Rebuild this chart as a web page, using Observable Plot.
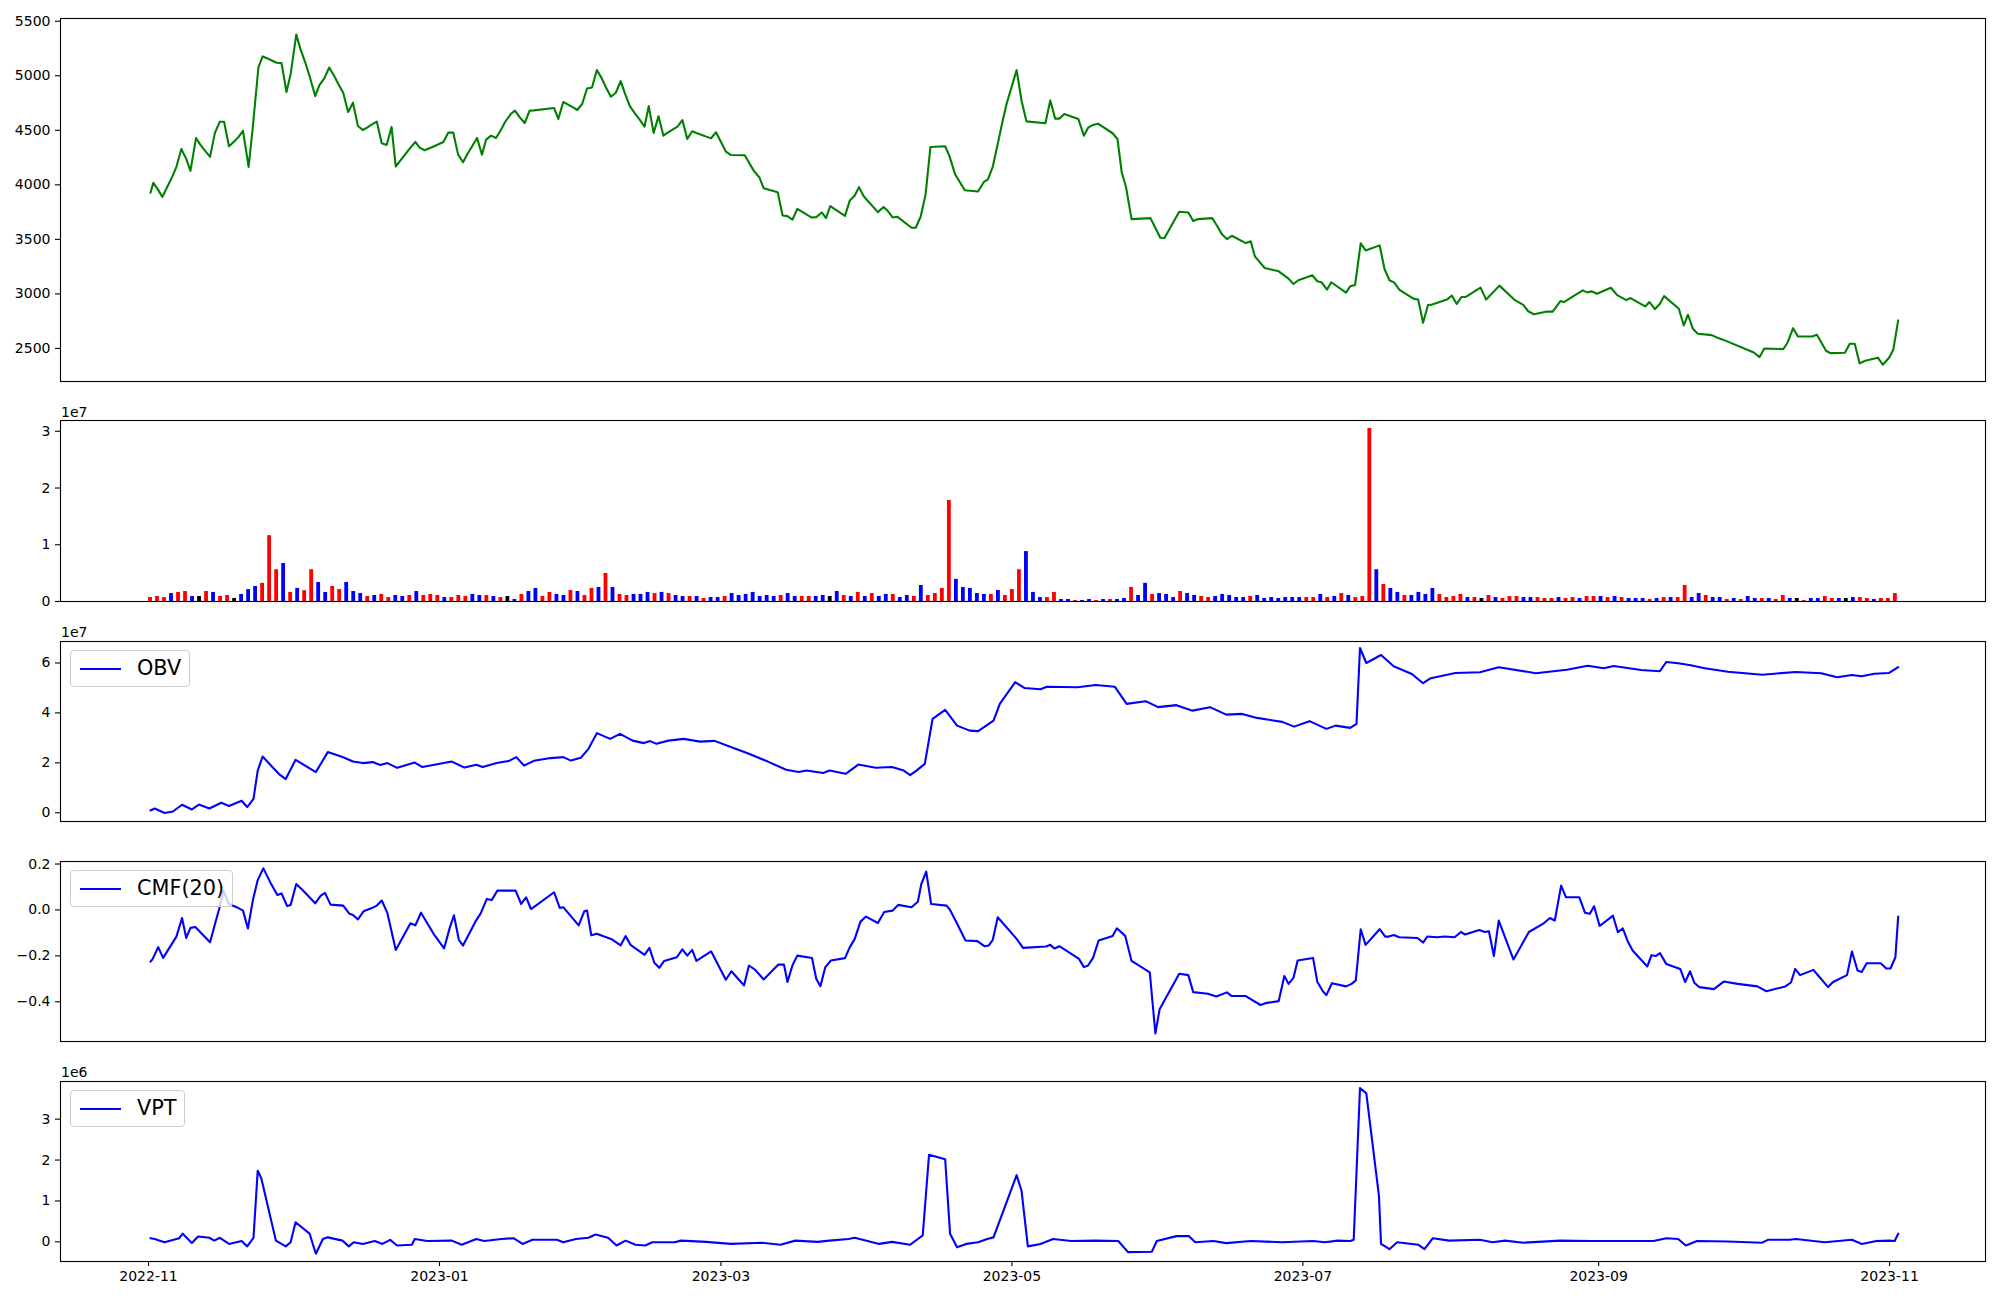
<!DOCTYPE html>
<html><head><meta charset="utf-8">
<script src="https://cdn.jsdelivr.net/npm/d3@7"></script>
<script src="https://cdn.jsdelivr.net/npm/@observablehq/plot@0.6"></script>
<style>
html,body{margin:0;padding:0;background:#fff;}
#fig{position:relative;width:2000px;height:1300px;font-family:"DejaVu Sans",sans-serif;color:#000;}
.panel{position:absolute;left:0;}
.offset{position:absolute;left:61px;font-size:14px;line-height:14px;}
.legend{position:absolute;z-index:5;display:flex;align-items:center;box-sizing:border-box;height:37px;padding:0 8px 0 9px;border:1px solid #cccccc;border-radius:4px;background:rgba(255,255,255,0.8);font-size:20.8px;line-height:1;}
.legend .swatch{width:41px;height:2px;background:#0000ff;margin-right:16px;}
</style></head><body><div id="fig"></div>
<script>
// ---------------- DATA ----------------
// bars are evenly spaced between the first and the last bar time
const firstBarTime = "2022-11-01T10:00Z";
const lastBarTime = "2023-11-02T05:00Z";
const xStart = "2022-10-13T13:12Z";
const xEnd = "2023-11-21T02:24Z";
const xTickDates = ["2022-11-01","2023-01-01","2023-03-01","2023-05-01","2023-07-01","2023-09-01","2023-11-01"];

// daily volume, millions
const volumeMillions = [
0.70,0.88,0.70,1.40,1.60,1.76,0.88,0.88,1.76,1.60, 0.88,1.06,0.53,1.24,2.10,2.65,3.20,11.6,5.6,6.7,
1.6,2.3,1.9,5.6,3.35,1.6,2.65,2.1,3.35,1.76, 1.4,0.88,1.06,1.24,0.7,1.06,0.88,1.06,1.76,1.06,
1.24,1.06,0.7,0.7,1.06,0.88,1.24,1.06,1.06,0.88, 0.7,0.88,0.35,1.24,1.76,2.3,0.88,1.6,
1.24,1.06,1.94,1.76,1.06,2.3,2.47,4.94,2.47,1.24, 1.06,1.24,1.24,1.6,1.4,1.6,1.4,1.06,0.88,0.88,
0.88,0.53,0.7,0.7,0.88,1.4,1.06,1.24,1.6,0.88, 1.06,0.88,1.06,1.4,0.88,0.88,0.88,0.88,1.06,0.88,
1.76,1.06,0.88,1.6,0.88,1.4,0.88,1.24,1.24,0.7, 1.06,0.88,2.82,1.06,1.4,2.3,17.8,3.9,2.47,2.3,
1.4,1.24,1.24,1.94,1.06,2.1,5.6,8.8,1.6,0.7,
0.7,1.6,0.35,0.35,0.18,0.18,0.35,0.18,0.35,0.35, 0.35,0.53,2.47,1.06,3.2,1.24,1.4,1.24,0.7,1.76,
1.4,1.06,0.88,0.7,0.88,1.24,1.06,0.7,0.7,0.88, 1.06,0.53,0.7,0.53,0.7,0.7,0.7,0.7,0.7,1.24,
0.7,0.88,1.4,1.06,0.7,0.88,30.5,5.6,3.0,2.3, 1.6,1.06,1.06,1.6,1.24,2.3,1.24,0.7,0.88,1.24,
0.7,0.7,0.53,1.06,0.7,0.53,0.88,0.88,0.7,0.7,
0.7,0.53,0.53,0.7,0.53,0.7,0.53,0.88,0.88,0.88, 0.7,0.88,0.7,0.53,0.53,0.53,0.35,0.53,0.7,0.7,
0.7,2.82,0.7,1.4,1.06,0.7,0.7,0.35,0.53,0.35, 0.88,0.53,0.53,0.53,0.35,1.06,0.53,0.53,0.18,0.53,
0.53,0.88,0.53,0.53,0.53,0.7,0.7,0.53,0.35,0.53, 0.53,1.4
];
// r = up (red), b = down (blue), k = unchanged (black)
const volumeColorCodes =
  "rrrbrrbkrb"+"rrkbbbrrrb"+"rbrrbbrrbb"+"brbrrbbrbr"+"rrbrrrbbrb"+"rkbrbbrr"+
  "bbrbrrbrbr"+"rbbbrbrbbr"+"brbbrbbbbb"+"bbrbbrrbbk"+"brbrbrbbrb"+"brbrrrrbbb"+"bbrbrrrbbb"+
  "rrbbrbbrbr"+"bbrbbrbbbr"+"bbrrbbbbbr"+"bbbbbbbrrb"+"rbrbrrrbrb"+"brbbbbrrrr"+"brkrbrrrbb"+
  "rrrbrrbrrb"+"rbrbbbrbrb"+"rrbbrbbrbr"+"bbrbrrbkrb"+"brrbkbrrbr"+"rr";

// [bar index, close]
const closePrice = [
[0,3927],[0.4,4018],[1,3963],[1.7,3890],[2.4,3982],[3.1,4073],[3.7,4165],[4.4,4329],[5.1,4238],[5.7,4128],
[6.5,4430],[7.1,4369],[7.8,4311],[8.5,4256],[9.2,4479],[9.9,4579],[10.5,4579],[11.2,4354],[11.9,4396],[12.6,4442],
[13.2,4494],[14,4165],[14.6,4530],[15.4,5076],[16,5177],[16.7,5159],[17.3,5140],[18,5119],[18.7,5116],[19.4,4851],
[20,5015],[20.8,5378],[21.4,5244],[22.1,5119],[22.7,4997],[23.5,4814],[24.1,4915],[24.8,4976],[25.5,5076],[26.2,5000],
[26.8,4924],[27.5,4844],[28.2,4668],[28.9,4753],[29.6,4540],[30.3,4503],[30.9,4524],[31.6,4555],[32.3,4579],[33,4381],
[33.7,4366],[34.4,4530],[35,4168],[35.7,4226],[36.4,4283],[37.1,4341],[37.8,4393],[38.4,4341],[39.1,4317],[39.8,4335],
[40.5,4354],[41.1,4372],[41.8,4393],[42.5,4479],[43.2,4479],[43.9,4277],[44.6,4207],[45.2,4280],[45.9,4354],[46.6,4430],
[47.3,4277],[47.9,4415],[48.6,4451],[49.3,4430],[50,4503],[50.6,4576],[51.4,4649],[52,4680],[52.7,4619],[53.4,4567],
[54.1,4680],[54.7,4683],[57.6,4704],[58.2,4604],[58.9,4759],[59.6,4735],[60.3,4710],[60.9,4686],[61.6,4741],[62.3,4884],
[63,4893],[63.7,5052],[64.4,4976],[65,4893],[65.7,4808],[66.4,4844],[67.1,4951],[67.7,4838],[68.4,4722],[69.1,4658],
[69.8,4597],[70.5,4533],[71.1,4722],[71.8,4476],[72.5,4628],[73.2,4451],[73.8,4479],[74.5,4506],[75.2,4533],[75.9,4594],
[76.6,4421],[77.3,4491],[77.9,4476],[78.6,4460],[79.3,4442],[80,4427],[80.7,4482],[82.1,4305],[82.8,4274],[84.8,4271],
[86.1,4128],[86.9,4067],[87.5,3969],[89.5,3933],[90.2,3719],[90.9,3713],[91.6,3680],[92.3,3780],[94.3,3701],[95,3704],
[95.8,3747],[96.4,3695],[97,3805],[99.1,3716],[99.8,3857],[100.5,3902],[101.1,3979],[101.8,3893],[103.8,3750],[104.6,3796],
[105.2,3762],[105.9,3701],[106.6,3707],[108.6,3607],[109.2,3607],[109.9,3707],[110.6,3908],[111.3,4347],[113.4,4354],[114,4265],
[114.8,4100],[116.2,3951],[118.1,3939],[118.9,4024],[119.5,4049],[120.2,4168],[121,4405],[121.6,4585],[122.2,4750],[123.6,5052],
[124.3,4771],[125,4582],[127.7,4564],[128.4,4774],[129.1,4607],[129.7,4607],[130.4,4649],[132.4,4604],[133.2,4451],[133.8,4524],
[134.5,4549],[135.2,4561],[137.3,4473],[138,4418],[138.6,4113],[139.2,3982],[140,3686],[142.7,3695],[144.1,3515],[144.7,3512],
[146.8,3753],[148.1,3747],[148.8,3668],[149.5,3686],[151.5,3695],[152.2,3625],[152.9,3546],[153.6,3503],[154.3,3533],[156.3,3466],
[157,3482],[157.6,3344],[159,3238],[161,3207],[162.4,3140],[163.1,3091],[163.8,3125],[165.8,3171],[166.5,3116],[167.1,3107],
[167.9,3040],[168.5,3107],[170.6,3012],[171.2,3070],[171.9,3082],[172.7,3463],[173.4,3399],[175.4,3445],[176.1,3228],[176.8,3125],
[177.5,3103],[178.2,3040],[180.2,2957],[180.9,2948],[181.6,2735],[182.3,2899],[182.9,2902],[185,2948],[185.7,2985],[186.4,2908],
[187.1,2972],[187.7,2972],[189.8,3058],[190.6,2948],[192.5,3076],[194.6,2948],[195.9,2899],[196.6,2841],[197.4,2814],[199.3,2838],
[200.1,2838],[201.2,2934],[201.7,2925],[203,2977],[204.4,3032],[205,3014],[205.7,3023],[206.4,3002],[208.4,3057],[209.3,2989],
[210.6,2943],[211.2,2962],[213.3,2885],[213.9,2925],[214.7,2861],[215.4,2910],[216,2980],[218.1,2864],[218.8,2711],[219.4,2809],
[220.1,2681],[220.8,2635],[222.8,2622],[223.6,2598],[224.3,2583],[228.8,2463],[229.6,2420],[230.3,2500],[233,2494],[233.6,2552],
[234.4,2686],[235.1,2610],[237.1,2610],[237.8,2626],[239.1,2479],[239.7,2457],[241.8,2461],[242.5,2543],[243.2,2543],[243.9,2363],
[244.7,2387],[246.5,2415],[247.2,2351],[248.1,2415],[248.7,2488],[249.4,2757]
];

// [bar index, OBV in units of 1e7]
const obvE7 = [
[0,0.09],[0.6,0.17],[2,-0.01],[3.2,0.05],[4.5,0.32],[5.9,0.13],[6.9,0.33],[8.4,0.17],[10.1,0.4],[11.2,0.27],
[13,0.48],[13.8,0.23],[14.7,0.56],[15.3,1.69],[16,2.25],[18.3,1.56],[19.3,1.35],[20.7,2.12],[23.6,1.63],[25.3,2.43],
[27.4,2.23],[28.9,2.05],[30.3,1.99],[31.7,2.03],[32.8,1.91],[33.8,1.99],[35.2,1.8],[37.7,2.01],[38.8,1.83],[43,2.05],
[44.8,1.81],[46.5,1.92],[47.4,1.83],[49.4,1.99],[51.1,2.07],[52.2,2.23],[53.3,1.89],[54.7,2.08],[57.1,2.19],[58.9,2.23],
[60,2.09],[61.4,2.2],[62.5,2.56],[63.7,3.19],[65.6,2.96],[67,3.16],[68.8,2.89],[70.4,2.79],[71.3,2.87],[72.2,2.76],
[73.9,2.89],[76.1,2.96],[78.4,2.85],[80.5,2.88],[83.1,2.6],[85.4,2.36],[88.1,2.05],[90.7,1.72],[92.5,1.63],[93.6,1.69],
[96,1.59],[96.9,1.69],[99.2,1.56],[101,1.93],[103.5,1.8],[105.8,1.83],[107.5,1.69],[108.4,1.51],[109.3,1.69],[110.5,1.96],
[111.6,3.76],[113.4,4.12],[115.1,3.49],[116.9,3.29],[118.1,3.27],[120.3,3.69],[121.2,4.36],[123.4,5.23],[124.7,5.0],[127,4.95],
[127.9,5.05],[132.3,5.03],[134.9,5.12],[137.6,5.05],[139.3,4.36],[142,4.47],[143.8,4.23],[146.4,4.31],[148.7,4.09],[151.2,4.23],
[153.5,3.93],[155.8,3.96],[157.9,3.8],[161.5,3.64],[163.2,3.45],[165.4,3.67],[167.8,3.36],[169.1,3.49],[171.2,3.4],[172.1,3.56],
[172.6,6.6],[173.5,6.0],[175.6,6.32],[177.4,5.87],[180,5.56],[181.6,5.19],[182.7,5.39],[186.2,5.6],[189.7,5.63],[192.4,5.83],
[197.7,5.59],[202.1,5.73],[205.1,5.89],[207.4,5.79],[208.8,5.88],[212.7,5.72],[215.4,5.67],[216.3,6.04],[218,5.99],[219.8,5.91],
[221.6,5.8],[225.1,5.65],[230,5.53],[234.8,5.64],[238.4,5.59],[240.7,5.43],[242.8,5.52],[244.2,5.47],[246,5.57],[248.1,5.6],
[249.4,5.83]
];

// [bar index, CMF(20)]
const cmf20 = [
[0,-0.225],[0.3,-0.214],[1.1,-0.162],[1.8,-0.209],[3.7,-0.116],[4.5,-0.035],[5.1,-0.122],[5.7,-0.078],[6.4,-0.074],[8.5,-0.141],
[9.2,-0.061],[9.8,0.004],[10.4,0.083],[11.2,0.026],[12.3,0.012],[13.2,-0.003],[13.9,-0.081],[14.6,0.041],[15.3,0.13],[16.1,0.181],
[17.1,0.12],[18.1,0.065],[18.7,0.072],[19.5,0.017],[20,0.022],[20.8,0.113],[21.8,0.084],[23.5,0.029],[24.3,0.062],[24.9,0.074],
[25.7,0.023],[27.5,0.019],[28.4,-0.017],[28.9,-0.022],[29.6,-0.041],[30.4,-0.006],[31.5,0.007],[32.3,0.019],[33,0.041],[33.8,-0.013],
[35,-0.174],[37.1,-0.058],[37.8,-0.067],[38.6,-0.012],[40.4,-0.104],[41.9,-0.167],[42.7,-0.078],[43.3,-0.023],[44,-0.13],[44.6,-0.155],
[46.4,-0.049],[47.1,-0.016],[48,0.048],[48.7,0.043],[49.5,0.084],[52.1,0.084],[52.9,0.026],[53.6,0.055],[54.3,0.004],[57.6,0.077],
[58.4,0.009],[58.9,0.012],[61.1,-0.067],[61.9,-0.006],[62.3,-0.003],[62.9,-0.11],[63.7,-0.104],[65.9,-0.129],[67.1,-0.154],[67.8,-0.114],
[68.5,-0.152],[70.5,-0.196],[71.2,-0.165],[71.9,-0.23],[72.6,-0.252],[73.3,-0.222],[75.1,-0.206],[75.9,-0.172],[76.6,-0.199],[77.3,-0.174],
[77.9,-0.222],[80,-0.18],[82.1,-0.304],[82.9,-0.267],[84.7,-0.329],[85.4,-0.242],[86.3,-0.261],[87.5,-0.303],[89.6,-0.238],[90.4,-0.238],
[90.9,-0.314],[91.6,-0.242],[92.3,-0.199],[94.4,-0.209],[95,-0.3],[95.6,-0.332],[96.3,-0.249],[97.1,-0.22],[99.1,-0.21],[99.8,-0.162],
[100.5,-0.126],[101.3,-0.052],[102.1,-0.029],[103.8,-0.057],[104.7,-0.009],[105.9,-0.003],[106.7,0.022],[108.6,0.012],[109.5,0.036],[110,0.113],
[110.7,0.167],[111.4,0.026],[113.6,0.019],[114.1,0],[115,-0.054],[116.3,-0.133],[118,-0.136],[119,-0.158],[119.6,-0.155],[120.2,-0.13],
[120.9,-0.032],[123.6,-0.126],[124.5,-0.165],[127.8,-0.159],[128.4,-0.152],[129,-0.168],[129.7,-0.158],[132.5,-0.213],[133.2,-0.249],[133.8,-0.242],
[134.5,-0.209],[135.3,-0.133],[137.3,-0.113],[137.9,-0.08],[139.1,-0.113],[140,-0.222],[142.6,-0.272],[143.4,-0.538],[144,-0.433],[146.8,-0.278],
[148.1,-0.284],[148.8,-0.358],[150.9,-0.365],[152.1,-0.377],[153.6,-0.359],[154.3,-0.375],[156.3,-0.375],[158.4,-0.414],[159.1,-0.406],[161,-0.397],
[161.8,-0.288],[162.4,-0.322],[163.1,-0.296],[163.7,-0.22],[165.9,-0.209],[166.5,-0.313],[167.3,-0.354],[167.8,-0.371],[168.6,-0.319],[170.6,-0.333],
[171.4,-0.322],[172,-0.307],[172.7,-0.084],[173.4,-0.152],[175.4,-0.084],[176.2,-0.116],[176.7,-0.116],[177.4,-0.109],[178.2,-0.119],[180.8,-0.122],
[181.6,-0.142],[182.2,-0.116],[183.6,-0.119],[184.7,-0.116],[186.1,-0.119],[187,-0.096],[187.6,-0.107],[189.6,-0.087],[190.4,-0.096],[191,-0.093],
[191.7,-0.201],[192.4,-0.046],[194.5,-0.216],[196.7,-0.096],[198.7,-0.061],[199.7,-0.035],[200.4,-0.046],[201.3,0.106],[202,0.055],[203.9,0.055],
[204.7,-0.012],[205.4,-0.017],[206,0.016],[206.8,-0.07],[208.7,-0.025],[209.4,-0.097],[210.1,-0.08],[210.8,-0.136],[211.5,-0.177],[213.6,-0.246],
[214.2,-0.197],[214.8,-0.201],[215.4,-0.188],[216.3,-0.235],[218.3,-0.257],[219,-0.314],[219.7,-0.267],[220.3,-0.317],[221,-0.336],[223.1,-0.345],
[224.5,-0.312],[226.5,-0.322],[229.3,-0.333],[230.6,-0.354],[233.3,-0.333],[234.1,-0.316],[234.7,-0.257],[235.4,-0.284],[237.3,-0.261],[238.1,-0.29],
[239.4,-0.336],[240.1,-0.314],[242.1,-0.284],[242.8,-0.181],[243.6,-0.264],[244.2,-0.27],[244.9,-0.232],[246.9,-0.232],[247.7,-0.255],[248.3,-0.255],
[249,-0.206],[249.4,-0.029]
];

// [bar index, VPT in units of 1e6]
const vptE6 = [
[0,0.09],[0.6,0.07],[2,-0.01],[4.1,0.09],[4.6,0.2],[5.9,-0.03],[6.8,0.13],[8.4,0.1],[9.1,0.03],[9.9,0.1],
[11.2,-0.05],[13,0.02],[13.8,-0.11],[14.7,0.1],[15.3,1.74],[15.8,1.56],[17.9,0.03],[19.3,-0.11],[20,-0.01],[20.7,0.48],
[22.7,0.2],[23.6,-0.29],[24.6,0.07],[25.3,0.11],[27.4,0.03],[28.3,-0.11],[29,-0.01],[30.3,-0.05],[32,0.02],[33.1,-0.05],
[34.2,0.05],[35.2,-0.09],[37.3,-0.07],[37.7,0.07],[39.5,0.02],[43,0.03],[44.4,-0.07],[46.5,0.07],[47.6,0.02],[50.1,0.07],
[51.8,0.09],[53.1,-0.05],[54.5,0.05],[58,0.05],[58.9,-0.01],[60.7,0.07],[62.5,0.1],[63.5,0.18],[65.3,0.1],[66.5,-0.09],
[67.8,0.03],[69.2,-0.07],[70.6,-0.09],[71.6,-0.01],[74.8,-0.01],[75.7,0.03],[79.3,0],[82.8,-0.05],[87.2,-0.02],[89.9,-0.07],
[92,0.03],[95.2,0],[96.9,0.03],[99.6,0.07],[100.5,0.1],[104,-0.05],[105.8,0],[108.4,-0.07],[110.2,0.16],[111.1,2.13],
[113.4,2.02],[114.1,0.2],[115.1,-0.13],[116.4,-0.05],[118.1,-0.01],[119.4,0.07],[120.3,0.11],[123.6,1.63],[124.3,1.25],[125.2,-0.11],
[127,-0.05],[128.8,0.07],[131.4,0.02],[134.9,0.03],[138.1,0.02],[139.5,-0.25],[142.9,-0.24],[143.6,0.02],[146.4,0.14],[148.2,0.14],
[149.1,-0.01],[151.7,0.02],[153.5,-0.03],[157,0.02],[161.5,-0.01],[165.9,0.02],[167.6,-0.01],[169.4,0.03],[171.2,0.02],[171.7,0.05],
[172.6,3.76],[173.5,3.63],[175.3,1.13],[175.6,-0.05],[176.8,-0.18],[177.9,-0.01],[180.9,-0.07],[181.8,-0.18],[183,0.09],[185.3,0.03],
[189.7,0.05],[191.5,-0.01],[193.3,0.03],[195.9,-0.02],[201.2,0.03],[205.6,0.02],[210.1,0.02],[214.5,0.02],[216.3,0.09],[218,0.07],
[219.1,-0.09],[220.7,0.02],[225.1,0.01],[230,-0.02],[230.8,0.05],[233.9,0.05],[234.8,0.07],[238.9,-0.01],[242.8,0.05],[244.2,-0.05],
[246.3,0.02],[248.1,0.03],[248.9,0.02],[249.4,0.2]
];

const priceTicks = [2500,3000,3500,4000,4500,5000,5500];
const volumeTicks = [0,1,2,3];       // x 1e7
const obvTicks = [0,2,4,6];          // x 1e7
const cmfTicks = [-0.4,-0.2,0,0.2];
const vptTicks = [0,1,2,3];          // x 1e6

// ---------------- DRAWING ----------------
const DAY = 864e5;
const t0 = new Date(firstBarTime), t1 = new Date(lastBarTime);
const nBars = volumeMillions.length;
const step = (t1 - t0) / (nBars - 1);
const atIndex = i => new Date(+t0 + i * step);
const xDomain = [new Date(xStart), new Date(xEnd)];
const colorOf = {r: "#ff0000", b: "#0000ff", k: "#000000"};

const bars = volumeMillions.map((v, i) => ({
  date: atIndex(i), v: v / 10, c: colorOf[volumeColorCodes[i]] || "#0000ff"
}));
const pts = arr => arr.map(([i, v]) => ({date: atIndex(i), v}));

const fig = document.getElementById("fig");

function panel({top, height, mt, mb, yDomain, ticks, fmt, marks, xAxis}) {
  const svg = Plot.plot({
    width: 2000, height,
    marginLeft: 60, marginRight: 15, marginTop: mt, marginBottom: mb,
    x: xAxis ? {type: "utc", domain: xDomain} : {type: "utc", domain: xDomain, axis: null},
    y: {domain: yDomain},
    color: {type: "identity"},
    style: {fontFamily: "DejaVu Sans", fontSize: "14px", background: "transparent", overflow: "visible", color: "#000"},
    marks: [
      ...marks,
      Plot.axisY({ticks, tickFormat: fmt, tickSize: 5, tickPadding: 5, label: null, strokeWidth: 1.1}),
      xAxis ? Plot.axisX({ticks: xTickDates.map(d => new Date(d)), tickFormat: d3.utcFormat("%Y-%m"),
                          tickSize: 5, tickPadding: 5, label: null, strokeWidth: 1.1}) : null,
      Plot.frame({stroke: "#000", strokeWidth: 1.1})
    ]
  });
  svg.classList.add("panel");
  svg.style.top = top + "px";
  fig.appendChild(svg);
}

const LW = 2.1;

panel({top: 0, height: 390, mt: 18, mb: 9, yDomain: [2197, 5525], ticks: priceTicks, fmt: d => `${d}`,
  marks: [Plot.line(pts(closePrice), {x: "date", y: "v", stroke: "#008000", strokeWidth: LW})]});

panel({top: 400, height: 210, mt: 20, mb: 9, yDomain: [0, 3.19], ticks: volumeTicks, fmt: d => `${d}`,
  marks: [Plot.rect(bars, {x1: d => new Date(+d.date - 0.4 * DAY), x2: d => new Date(+d.date + 0.4 * DAY),
                           y1: 0, y2: "v", fill: "c"})]});

panel({top: 620, height: 210, mt: 21, mb: 9, yDomain: [-0.35, 6.86], ticks: obvTicks, fmt: d => `${d}`,
  marks: [Plot.line(pts(obvE7), {x: "date", y: "v", stroke: "#0000ff", strokeWidth: LW})]});

panel({top: 845, height: 205, mt: 16, mb: 9, yDomain: [-0.573, 0.211], ticks: cmfTicks, fmt: d3.format(".1f"),
  marks: [Plot.line(pts(cmf20), {x: "date", y: "v", stroke: "#0000ff", strokeWidth: LW})]});

panel({top: 1060, height: 240, mt: 21, mb: 39, yDomain: [-0.48, 3.92], ticks: vptTicks, fmt: d => `${d}`, xAxis: true,
  marks: [Plot.line(pts(vptE6), {x: "date", y: "v", stroke: "#0000ff", strokeWidth: LW})]});

// offset labels and legends
function addDiv(cls, html, css) {
  const d = document.createElement("div");
  d.className = cls; d.innerHTML = html; Object.assign(d.style, css);
  fig.appendChild(d);
}
addDiv("offset", "1e7", {top: "405px"});
addDiv("offset", "1e7", {top: "625px"});
addDiv("offset", "1e6", {top: "1065px"});
addDiv("legend", '<span class="swatch"></span><span>OBV</span>', {left: "70px", top: "650px"});
addDiv("legend", '<span class="swatch"></span><span>CMF(20)</span>', {left: "70px", top: "870px"});
addDiv("legend", '<span class="swatch"></span><span>VPT</span>', {left: "70px", top: "1090px"});
</script></body></html>
